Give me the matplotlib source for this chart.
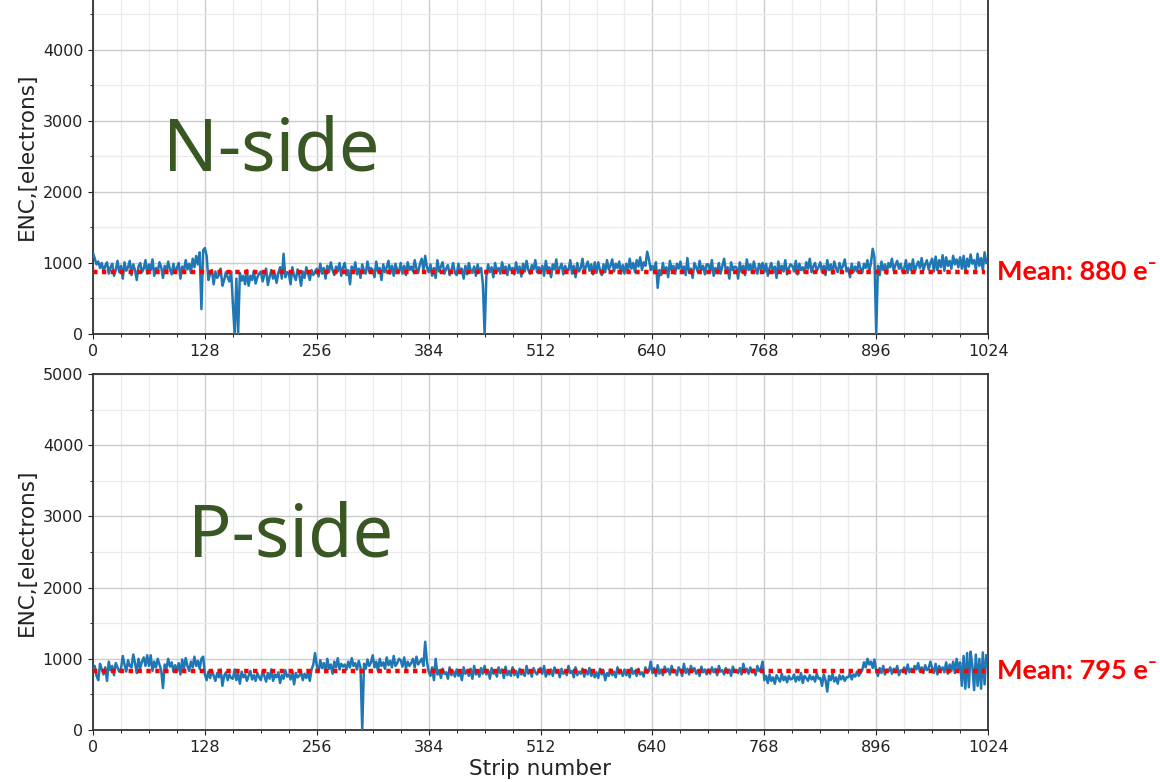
import matplotlib.pyplot as plt
from matplotlib.ticker import MultipleLocator
import numpy as np

# ENC per strip, read every 2nd strip (0, 2, ..., 1022), one row = 32 strips
n_enc = [1140, 1060, 980, 1020, 930, 1000, 880, 960, 1010, 850, 940, 990, 820, 900, 1030, 870,
         960, 780, 1010, 890, 940, 1030, 830, 980, 900, 760, 950, 1000, 870, 920, 1040, 850,
         980, 900, 1050, 820, 930, 870, 1010, 940, 790, 960, 880, 1020, 910, 840, 990, 860,
         930, 1000, 780, 950, 880, 1040, 910, 990, 860, 1060, 940, 1100, 980, 1150, 350, 1180,
         1210, 1100, 760, 850, 900, 700, 880, 790, 830, 920, 680, 760, 870, 800, 740, 880,
         420, 0, 780, 0, 860, 750, 820, 700, 900, 680, 820, 760, 890, 710, 800, 850,
         880, 740, 830, 920, 690, 800, 900, 780, 850, 720, 860, 940, 780, 1130, 800, 870,
         850, 700, 940, 820, 760, 910, 830, 680, 880, 790, 940, 850, 760, 900, 830, 880,
         920, 810, 990, 850, 930, 780, 960, 870, 1010, 900, 830, 950, 880, 1000, 820, 940,
         1000, 830, 900, 700, 950, 860, 1010, 840, 920, 790, 980, 890, 850, 1020, 880, 930,
         900, 800, 1020, 880, 930, 760, 980, 870, 940, 1030, 850, 960, 820, 990, 900, 870,
         1000, 850, 960, 830, 1010, 900, 950, 880, 1040, 920, 860, 990, 1060, 900, 1100, 940,
         870, 980, 820, 930, 790, 1040, 880, 950, 1010, 850, 920, 970, 830, 900, 1000, 860,
         830, 990, 880, 920, 780, 960, 840, 1000, 900, 860, 950, 820, 980, 870, 930, 700,
         0, 820, 980, 870, 940, 800, 1000, 880, 930, 850, 1010, 890, 950, 830, 970, 900,
         930, 840, 1010, 860, 950, 810, 990, 880, 1030, 900, 850, 970, 910, 1040, 870, 940,
         870, 960, 820, 1030, 890, 940, 800, 980, 910, 1050, 860, 930, 990, 840, 960, 900,
         900, 1040, 850, 960, 800, 1000, 880, 930, 1060, 870, 950, 1020, 890, 980, 840, 1010,
         860, 1010, 900, 830, 980, 870, 1040, 910, 960, 1050, 880, 990, 930, 1020, 850, 970,
         850, 990, 880, 1060, 920, 1000, 870, 1040, 950, 1080, 900, 1010, 960, 1160, 1050, 900,
         960, 880, 1010, 650, 900, 830, 1000, 870, 940, 800, 1030, 900, 960, 850, 990, 920,
         1020, 880, 950, 830, 1070, 860, 920, 790, 1000, 940, 870, 1030, 900, 960, 840, 980,
         980, 870, 1040, 820, 930, 880, 1000, 850, 960, 1060, 890, 940, 780, 1010, 900, 950,
         940, 780, 1010, 870, 960, 830, 1050, 900, 980, 860, 1020, 920, 850, 990, 910, 1000,
         870, 990, 820, 930, 1000, 860, 950, 790, 1020, 900, 960, 880, 1040, 840, 930, 980,
         960, 880, 1030, 840, 990, 900, 940, 860, 1010, 920, 1060, 870, 950, 1000, 890, 940,
         1010, 870, 960, 830, 1040, 900, 980, 850, 1020, 930, 870, 1000, 910, 960, 1050, 880,
         930, 800, 990, 870, 950, 880, 1010, 920, 860, 990, 930, 1040, 880, 1000, 1200, 1080,
         0, 960, 830, 1020, 900, 980, 850, 1000, 940, 1060, 890, 970, 1030, 920, 990, 870,
         920, 1040, 860, 990, 900, 1050, 870, 960, 1020, 930, 1070, 900, 980, 1040, 910, 1000,
         1060, 880, 1090, 900, 1040, 940, 1110, 890, 1080, 960, 1030, 920, 1100, 980, 1050, 940,
         1080, 920, 1100, 870, 1060, 950, 1120, 990, 1040, 910, 1130, 960, 1070, 900, 1150, 1000]

p_enc = [820, 900, 760, 700, 930, 850, 780, 880, 690, 960, 840, 900, 770, 940, 880, 820,
         860, 1040, 920, 820, 980, 900, 880, 1060, 940, 800, 1000, 870, 960, 1020, 900, 1050,
         900, 1050, 830, 960, 880, 1000, 920, 840, 590, 920, 870, 1000, 890, 950, 820, 910,
         820, 940, 780, 990, 860, 1010, 900, 830, 960, 880, 1030, 900, 970, 860, 1000, 1030,
         780, 700, 820, 730, 840, 760, 690, 800, 740, 850, 620, 760, 810, 700, 780, 730,
         720, 850, 700, 790, 650, 820, 740, 780, 690, 760, 830, 710, 770, 690, 800, 740,
         700, 830, 760, 680, 800, 720, 850, 690, 780, 740, 810, 660, 770, 720, 840, 750,
         780, 710, 830, 640, 800, 740, 760, 820, 700, 790, 730, 810, 690, 850, 920, 1080,
         900, 820, 980, 870, 940, 810, 1000, 860, 920, 790, 960, 880, 1010, 850, 930, 890,
         920, 850, 960, 880, 1010, 900, 940, 850, 970, 880, 0, 930, 860, 990, 900, 950,
         1050, 880, 960, 830, 1000, 900, 950, 860, 1020, 910, 970, 880, 1040, 900, 940, 1000,
         980, 890, 1020, 870, 960, 900, 940, 1000, 880, 1030, 920, 960, 1000, 900, 1240, 960,
         820, 760, 880, 700, 1000, 780, 840, 730, 860, 790, 810, 720, 880, 770, 830, 750,
         850, 760, 810, 700, 880, 790, 830, 760, 860, 720, 900, 780, 820, 750, 870, 790,
         900, 780, 840, 720, 870, 790, 820, 750, 880, 800, 850, 730, 890, 770, 830, 760,
         880, 770, 830, 740, 860, 780, 810, 760, 900, 790, 840, 750, 870, 810, 780, 850,
         870, 790, 900, 750, 820, 780, 850, 760, 880, 800, 830, 740, 860, 790, 820, 770,
         900, 800, 830, 740, 880, 770, 820, 790, 860, 750, 840, 780, 870, 760, 810, 740,
         810, 730, 860, 780, 830, 700, 800, 760, 850, 770, 820, 740, 880, 790, 830, 760,
         850, 770, 820, 740, 870, 790, 830, 760, 860, 780, 810, 750, 880, 800, 830, 960,
         800, 870, 760, 910, 790, 850, 770, 890, 820, 860, 780, 900, 810, 840, 770, 880,
         840, 760, 930, 800, 860, 780, 900, 820, 870, 790, 840, 760, 890, 810, 850, 780,
         850, 790, 880, 810, 860, 770, 900, 820, 840, 780, 870, 800, 850, 760, 890, 820,
         840, 800, 870, 780, 930, 820, 860, 790, 880, 810, 850, 770, 900, 830, 860, 960,
         700, 760, 660, 780, 690, 740, 650, 770, 720, 680, 790, 700, 750, 670, 760, 710,
         720, 780, 680, 750, 700, 800, 660, 760, 730, 690, 770, 710, 750, 680, 790, 720,
         730, 620, 780, 700, 540, 760, 700, 790, 680, 740, 650, 770, 710, 760, 690, 740,
         740, 800, 710, 780, 750, 820, 760, 800, 840, 950, 880, 1000, 920, 960, 870, 990,
         830, 760, 870, 800, 900, 780, 850, 820, 880, 790, 860, 810, 900, 770, 840, 820,
         880, 790, 920, 810, 860, 830, 900, 850, 940, 820, 880, 800, 910, 840, 870, 960,
         870, 800, 930, 780, 900, 840, 880, 810, 950, 790, 920, 830, 960, 800, 1000, 860,
         950, 620, 1040, 580, 1080, 600, 1100, 900, 560, 1060, 620, 1000, 580, 1090, 640, 1050]

n_mean_label = 880
p_mean_label = 795
n_mean_line = 880
p_mean_line = 830

strips = np.arange(len(n_enc)) * 2

fig = plt.figure(figsize=(11.6, 7.82), dpi=100)
ax_n = fig.add_axes([0.0802, 0.5729, 0.7716, 0.4540])
ax_p = fig.add_axes([0.0802, 0.0665, 0.7716, 0.4552])

panels = [(ax_n, n_enc, n_mean_line, n_mean_label),
          (ax_p, p_enc, p_mean_line, p_mean_label)]

for ax, vals, mline, mlabel in panels:
    ax.plot(strips, vals, color="#1f77b4", lw=1.8, zorder=3)
    ax.plot([0, 1020], [mline, mline], color="red", ls=(0, (1, 1)), lw=3.2, zorder=4)
    ax.set_xlim(0, 1024)
    ax.set_ylim(0, 5000)
    ax.xaxis.set_major_locator(MultipleLocator(128))
    ax.xaxis.set_minor_locator(MultipleLocator(32))
    ax.yaxis.set_minor_locator(MultipleLocator(500))
    ax.grid(which="major", color="#cccccc", lw=1.0)
    ax.grid(which="minor", color="#ebebeb", lw=0.9)
    ax.set_axisbelow(True)
    ax.tick_params(labelsize=11.5, colors="#222222")
    for sp in ax.spines.values():
        sp.set_color("#333333")
        sp.set_linewidth(1.3)
    ax.set_ylabel("ENC,[electrons]", fontsize=15.5, color="#222222")
    ax.text(1.01, mline / 5000, "Mean: %d e\u207b" % mlabel, transform=ax.transAxes,
            color="red", fontsize=19.5, fontweight="bold", va="center", ha="left",
            family=["Lato", "DejaVu Sans"])

# top of the N-side panel is cut by the figure edge
ax_n.set_yticks([0, 1000, 2000, 3000, 4000])
ax_p.set_yticks([0, 1000, 2000, 3000, 4000, 5000])

ax_n.text(0.078, 0.515, "N-side", transform=ax_n.transAxes, fontsize=52,
          color="#385723", family="Noto Sans", va="center")
ax_p.text(0.106, 0.542, "P-side", transform=ax_p.transAxes, fontsize=52,
          color="#385723", family="Noto Sans", va="center")
ax_p.set_xlabel("Strip number", fontsize=15.5, color="#222222", labelpad=3)

fig.savefig("out.png", dpi=100)
